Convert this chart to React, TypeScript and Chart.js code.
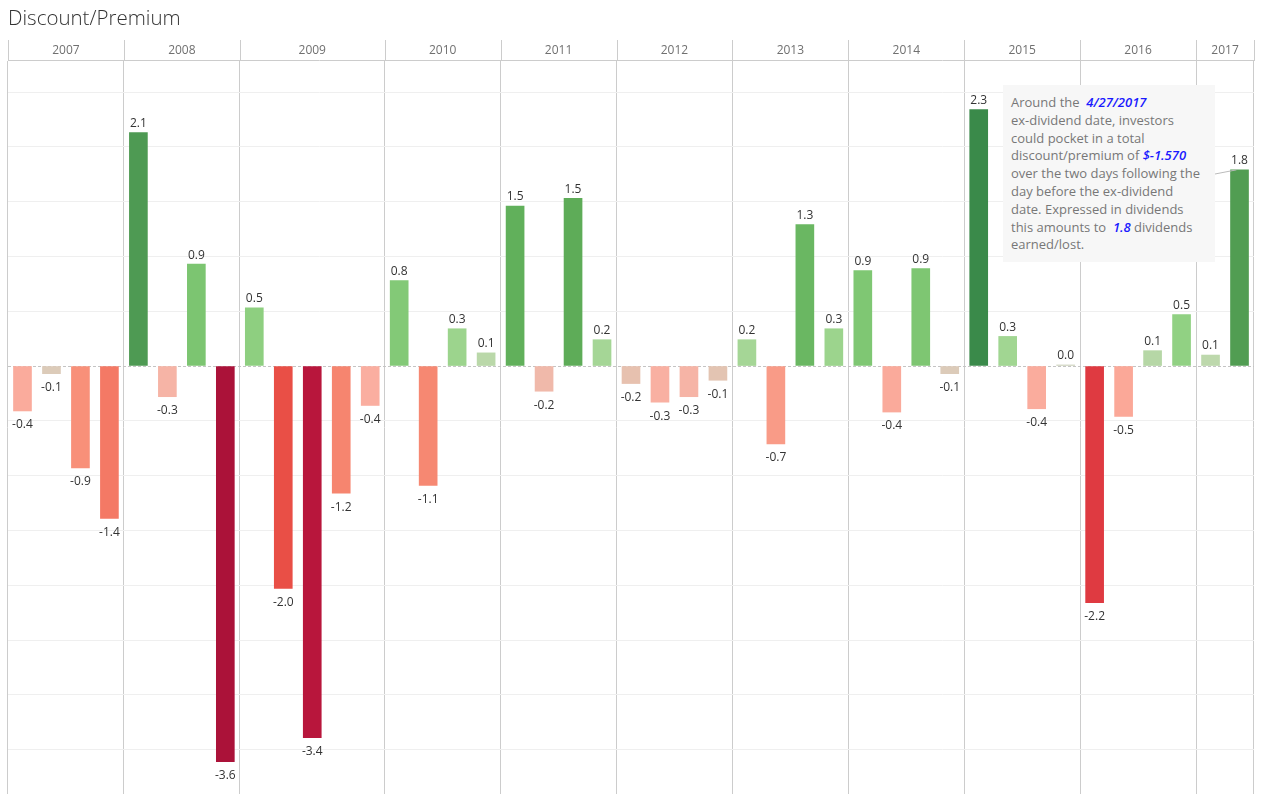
import React, { useEffect, useRef } from 'react';
import { Chart, registerables } from 'chart.js';
Chart.register(...registerables);

// ---- data ----
const years = ['2007', '2008', '2009', '2010', '2011', '2012', '2013', '2014', '2015', '2016', '2017'];
const v2007 = [-0.41, -0.07, -0.93, -1.39];
const v2008 = [2.13, -0.28, 0.93, -3.61];
const v2009 = [0.53, -2.03, -3.39, -1.16, -0.36];
const v2010 = [0.78, -1.09, 0.34, 0.12];
const v2011 = [1.46, -0.23, 1.53, 0.24];
const v2012 = [-0.16, -0.33, -0.28, -0.13];
const v2013 = [0.24, -0.71, 1.29, 0.34];
const v2014 = [0.87, -0.42, 0.89, -0.07];
const v2015 = [2.34, 0.27, -0.39, 0.01];
const v2016 = [-2.16, -0.46, 0.14, 0.47];
const v2017 = [0.1, 1.79];
const yearSeries = [v2007, v2008, v2009, v2010, v2011, v2012, v2013, v2014, v2015, v2016, v2017];

// ---- derived ----
const labels: string[] = [];
const values: number[] = [];
const yearStarts: number[] = [];
yearSeries.forEach((arr, yi) => {
  yearStarts.push(values.length);
  arr.forEach((v, i) => {
    labels.push(`${years[yi]} #${i + 1}`);
    values.push(v);
  });
});

// ---- colour palette (diverging red-green) ----
const stops: [number, string][] = [
  [-3.6, '#ab1239'], [-3.4, '#b8163c'], [-2.2, '#dc3340'], [-2.0, '#eb5447'],
  [-1.4, '#f47965'], [-0.9, '#f8917a'], [-0.5, '#fba595'], [-0.3, '#f9b2a4'],
  [-0.15, '#e6c2b0'], [-0.05, '#d9cdbb'], [0, '#d3d6c4'], [0.1, '#bdd8ac'],
  [0.25, '#a3d694'], [0.5, '#8fd081'], [0.9, '#7ec672'], [1.3, '#69b762'],
  [1.5, '#5fae59'], [1.8, '#519c52'], [2.1, '#529d54'], [2.3, '#3a8a4a'],
];
function hex(h: string) {
  return [1, 3, 5].map((i) => parseInt(h.slice(i, i + 2), 16));
}
function colorFor(v: number) {
  if (v <= stops[0][0]) return stops[0][1];
  if (v >= stops[stops.length - 1][0]) return stops[stops.length - 1][1];
  for (let i = 0; i < stops.length - 1; i++) {
    const [a, ca] = stops[i];
    const [b, cb] = stops[i + 1];
    if (v >= a && v <= b) {
      const t = (v - a) / (b - a);
      const A = hex(ca), B = hex(cb);
      const c = A.map((x, k) => Math.round(x + (B[k] - x) * t));
      return `rgb(${c[0]},${c[1]},${c[2]})`;
    }
  }
  return '#ccc';
}

const LINE = '#cccccc';

const overlayPlugin = {
  id: 'overlay',
  beforeDatasetsDraw(chart: any) {
    const { ctx, chartArea, scales } = chart;
    const y0 = Math.round(scales.y.getPixelForValue(0)) + 0.5;
    ctx.save();
    ctx.strokeStyle = '#c4c4c4';
    ctx.lineWidth = 1;
    ctx.setLineDash([3, 2]);
    ctx.beginPath();
    ctx.moveTo(chartArea.left, y0);
    ctx.lineTo(chartArea.right, y0);
    ctx.stroke();
    ctx.restore();
  },
  afterDatasetsDraw(chart: any) {
    const { ctx } = chart;
    const meta = chart.getDatasetMeta(0);
    ctx.save();
    ctx.font = '12px "Open Sans"';
    ctx.fillStyle = '#333333';
    ctx.textAlign = 'center';
    meta.data.forEach((bar: any, i: number) => {
      const v = values[i];
      const txt = v.toFixed(1);
      if (v >= 0) {
        ctx.textBaseline = 'bottom';
        ctx.fillText(txt, bar.x, bar.y - 3);
      } else {
        ctx.textBaseline = 'top';
        ctx.fillText(txt, bar.x, bar.y + 8);
      }
    });
    // connector from annotation to last bar
    const last = meta.data[meta.data.length - 1];
    ctx.strokeStyle = '#bbbbbb';
    ctx.lineWidth = 1;
    ctx.beginPath();
    ctx.moveTo(1215, 174);
    ctx.lineTo(last.x - 3, last.y);
    ctx.stroke();
    ctx.restore();
  },
  afterDraw(chart: any) {
    const { ctx, chartArea, scales } = chart;
    const x = scales.x;
    const slot = (x.right - x.left) / values.length;
    const top = 40;
    const hy = chartArea.top;
    ctx.save();
    ctx.strokeStyle = LINE;
    ctx.lineWidth = 1;
    ctx.beginPath();
    ctx.moveTo(chartArea.left, hy - 0.5);
    ctx.lineTo(chartArea.right, hy - 0.5);
    const bounds = yearStarts.map((s) => x.getPixelForValue(s) - slot / 2);
    bounds.push(x.right);
    bounds.forEach((b) => {
      const bx = Math.round(b) + 0.5;
      ctx.moveTo(bx, top);
      ctx.lineTo(bx, hy);
    });
    ctx.stroke();
    ctx.font = '12px "Open Sans"';
    ctx.fillStyle = '#707070';
    ctx.textAlign = 'center';
    ctx.textBaseline = 'middle';
    years.forEach((yr, i) => {
      ctx.fillText(yr, (bounds[i] + bounds[i + 1]) / 2, (top + hy) / 2);
    });
    ctx.restore();
  },
};

export default function App() {
  const ref = useRef<HTMLCanvasElement | null>(null);
  useEffect(() => {
    if (!ref.current) return;
    const startSet = new Set(yearStarts);
    const chart = new Chart(ref.current, {
      type: 'bar',
      data: {
        labels,
        datasets: [
          {
            data: values,
            backgroundColor: values.map(colorFor),
            barThickness: 18,
            borderWidth: 0,
          },
        ],
      },
      options: {
        animation: false,
        responsive: false,
        devicePixelRatio: 1,
        layout: { padding: { left: 8, right: 23, top: 61, bottom: 0 } },
        plugins: { legend: { display: false }, tooltip: { enabled: false }, title: { display: false } },
        scales: {
          x: {
            grid: {
              offset: true,
              drawTicks: false,
              color: (c: any) => (c.index === undefined || startSet.has(c.index) ? LINE : 'rgba(0,0,0,0)'),
            },
            border: { display: false },
            ticks: { display: false },
          },
          y: {
            min: -3.905,
            max: 2.783,
            grid: {
              drawTicks: false,
              color: (c: any) => {
                const v = c.tick ? c.tick.value : NaN;
                const r = Math.round(v * 2) / 2;
                if (Math.abs(v - r) > 1e-6 || Math.abs(v) < 1e-6) return 'rgba(0,0,0,0)';
                return '#efefef';
              },
            },
            border: { display: false },
            ticks: { display: false, stepSize: 0.5 },
          },
        },
      },
      plugins: [overlayPlugin],
    });
    return () => chart.destroy();
  }, []);

  const hl: React.CSSProperties = { color: '#1a1aff', fontWeight: 600, fontStyle: 'italic' };
  return (
    <div style={{ position: 'absolute', left: 0, top: 0, width: 1277, height: 794, background: '#fff', overflow: 'hidden' }}>
      <canvas ref={ref} width={1277} height={794} style={{ position: 'absolute', left: 0, top: 0, width: 1277, height: 794 }} />
      <div
        style={{
          position: 'absolute', left: 8, top: 4, fontFamily: '"Open Sans", sans-serif', fontWeight: 300,
          fontSize: 20.5, color: '#333', lineHeight: '26px', whiteSpace: 'nowrap',
        }}
      >
        Discount/Premium
      </div>
      <div
        style={{
          position: 'absolute', left: 1003, top: 85, width: 212, height: 177, boxSizing: 'border-box',
          background: '#f7f7f7', padding: '9px 0 0 8px', fontFamily: '"Open Sans", sans-serif', fontSize: 13,
          lineHeight: '17.8px', color: '#777', whiteSpace: 'pre',
        }}
      >
        <div>Around the  <span style={hl}>4/27/2017</span></div>
        <div>ex-dividend date, investors</div>
        <div>could pocket in a total</div>
        <div>discount/premium of <span style={hl}>$-1.570</span></div>
        <div>over the two days following the</div>
        <div>day before the ex-dividend</div>
        <div>date. Expressed in dividends</div>
        <div>this amounts to  <span style={hl}>1.8</span> dividends</div>
        <div>earned/lost.</div>
      </div>
    </div>
  );
}
